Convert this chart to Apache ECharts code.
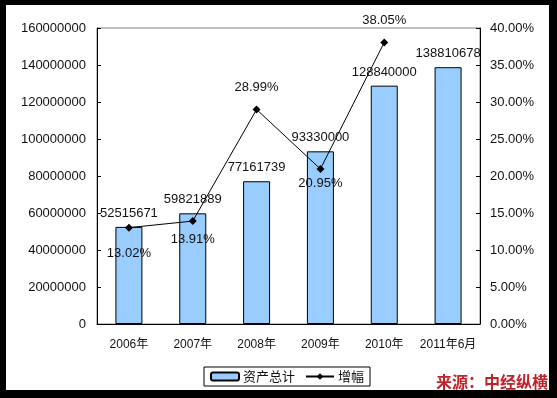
<!DOCTYPE html>
<html>
<head>
<meta charset="utf-8">
<style>
  html, body { margin: 0; padding: 0; background: #000; }
  #chart { width: 557px; height: 398px; }
</style>
<script src="https://cdn.jsdelivr.net/npm/echarts@6/dist/echarts.min.js"></script>
</head>
<body>
<div id="chart"></div>
<script>
const categories = ['2006年', '2007年', '2008年', '2009年', '2010年', '2011年6月']
const totalAssets = [52515671, 59821889, 77161739, 93330000, 128840000, 138810678]
const growthRate = [13.02, 13.91, 28.99, 20.95, 38.05, null]
const seriesNames = ['资产总计', '增幅']
const sourceText = '来源：中经纵横'

const FONT = '"Liberation Sans", Arial, "Noto Sans CJK SC", sans-serif'
const TEXT = '#111'

// 增幅标签：上方或下方
const growthLabelPos = ['bottom', 'bottom', 'top', 'bottom', 'top', 'top']
const growthLabelDist = [15, 8, 12, 4, 12, 12]

const chart = echarts.init(document.getElementById('chart'))

const option = {
  backgroundColor: '#000',
  animation: false,
  textStyle: { fontFamily: FONT },
  graphic: [
    {
      type: 'rect',
      z: -10,
      shape: { x: 6, y: 5, width: 543, height: 385 },
      style: { fill: '#fff' }
    },
    {
      type: 'text',
      right: 9,
      top: 374,
      style: {
        text: sourceText,
        fill: '#c0222a',
        font: 'bold 16px "Noto Sans CJK SC", sans-serif'
      }
    }
  ],
  grid: {
    left: 97,
    right: 77,
    top: 28,
    bottom: 74,
    show: true,
    borderColor: '#808080',
    borderWidth: 1,
    backgroundColor: 'transparent'
  },
  legend: {
    left: 204,
    top: 367,
    borderColor: '#000',
    borderWidth: 1,
    padding: [3, 6, 3, 6],
    itemGap: 10,
    itemWidth: 28,
    itemHeight: 8,
    textStyle: { fontSize: 13, color: TEXT, fontFamily: '"Noto Sans CJK SC", sans-serif', padding: [0, 0, 0, -1] },
    data: seriesNames
  },
  xAxis: {
    type: 'category',
    data: categories,
    axisLine: { lineStyle: { color: '#000', width: 1 } },
    axisTick: { inside: true, length: 5, lineStyle: { color: '#000' } },
    axisLabel: { interval: 0, fontSize: 12, color: TEXT, margin: 15, fontFamily: FONT }
  },
  yAxis: [
    {
      type: 'value',
      min: 0,
      max: 160000000,
      interval: 20000000,
      splitLine: { show: false },
      axisLine: { show: true, lineStyle: { color: '#000' } },
      axisTick: { show: true, inside: true, length: 4, lineStyle: { color: '#000' } },
      axisLabel: { fontSize: 13, color: TEXT, margin: 11, formatter: v => String(v) }
    },
    {
      type: 'value',
      min: 0,
      max: 40,
      interval: 5,
      splitLine: { show: false },
      axisLine: { show: true, lineStyle: { color: '#000' } },
      axisTick: { show: true, inside: true, length: 4, lineStyle: { color: '#000' } },
      axisLabel: {
        fontSize: 13,
        color: TEXT,
        margin: 10,
        formatter: v => v.toFixed(2) + '%'
      }
    }
  ],
  series: [
    {
      name: seriesNames[0],
      type: 'bar',
      barWidth: 27,
      data: totalAssets,
      itemStyle: { color: '#99ccff', borderColor: '#000', borderWidth: 1 },
      label: {
        show: true,
        position: 'top',
        distance: 7,
        fontSize: 13,
        color: TEXT
      }
    },
    {
      name: seriesNames[1],
      type: 'line',
      yAxisIndex: 1,
      data: growthRate.map((v, i) => ({
        value: v,
        label: { position: growthLabelPos[i], distance: growthLabelDist[i] }
      })),
      symbol: 'diamond',
      symbolSize: 8,
      lineStyle: { color: '#000', width: 1 },
      itemStyle: { color: '#000' },
      label: {
        show: true,
        fontSize: 13,
        color: TEXT,
        formatter: p => p.value.toFixed(2) + '%'
      },
      z: 5
    }
  ]
}

chart.setOption(option)
</script>
</body>
</html>
